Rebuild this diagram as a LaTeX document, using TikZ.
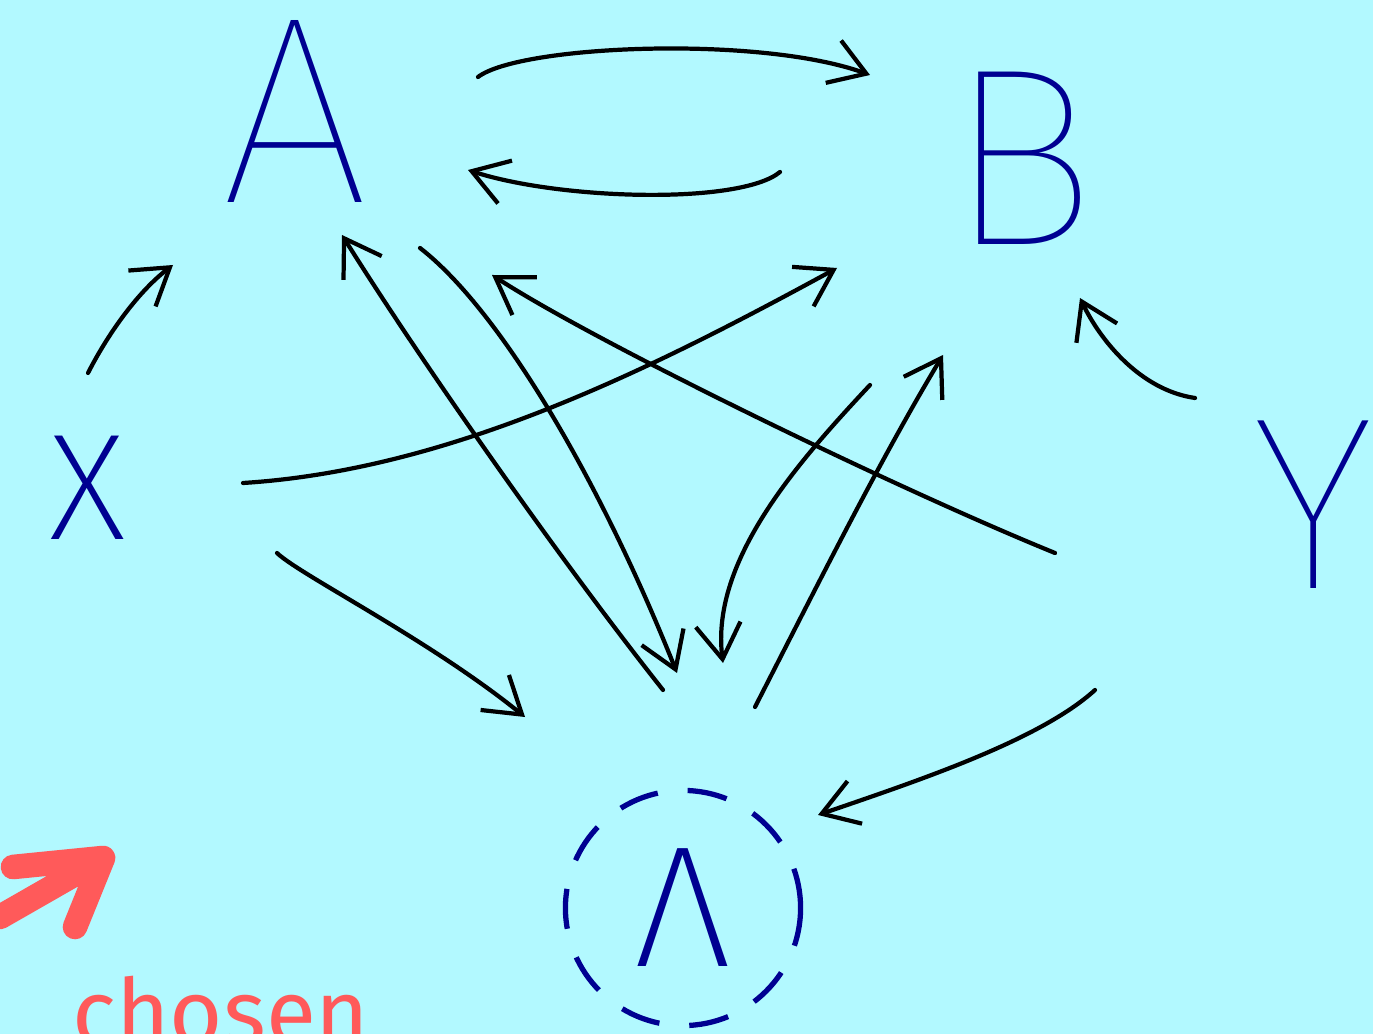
\documentclass[tikz,border=0pt]{standalone}
\usepackage{fontspec}
\newfontfamily\mao{Fira Sans ExtraLight}
\newfontfamily\maofina{Fira Sans Thin}
\newfontfamily\maonormal{Fira Sans}
\usetikzlibrary{arrows.meta}
\definecolor{fundo}{RGB}{178,249,255}
\definecolor{tinta}{RGB}{0,0,145}
\definecolor{verm}{RGB}{255,90,90}

\begin{document}
\begin{tikzpicture}[
      x=0.01cm, y=-0.01cm,
      letra/.style={text=tinta, inner sep=0pt},
      seta/.style={-{Straight Barb[length=3.5mm,width=4.5mm]}, line width=1.2pt,
                   line cap=round},
      marca/.style={verm, line width=7pt, line cap=round, line join=round}
    ]
    \clip (0,0) rectangle (1373,1034);
    \fill[fundo] (0,0) rectangle (1373,1034);
    \node[letra, font=\maofina\fontsize{76}{76}\selectfont] (A) at (295,112) {A};
    \node[letra, font=\maofina\fontsize{72}{72}\selectfont] (B) at (1022,158) {B};
    \node[letra, font=\mao\fontsize{43}{43}\selectfont] (X) at (88,488) {X};
    \node[letra, font=\maofina\fontsize{70}{70}\selectfont] (Y) at (1313,505) {Y};
    \node[letra, circle, draw=tinta, dash pattern=on 4mm off 3mm, line width=1.5pt,
          minimum size=2.35cm, font=\mao\fontsize{49}{49}\selectfont] (L) at (683,908) {Λ};
    % pontas das setas
    \coordinate (A1) at (478,77);   \coordinate (B1) at (870,75);
    \coordinate (B2) at (780,172);  \coordinate (A2) at (468,170);
    \coordinate (X1) at (88,373);   \coordinate (A3) at (173,265);
    \coordinate (Y1) at (1195,398); \coordinate (B3) at (1080,298);
    \coordinate (X2) at (243,483);  \coordinate (B4) at (837,268);
    \coordinate (L1) at (663,690);  \coordinate (A4) at (342,235);
    \coordinate (A5) at (420,248);  \coordinate (L2) at (677,673);
    \coordinate (Y2) at (1055,553); \coordinate (A6) at (492,275);
    \coordinate (L3) at (755,707);  \coordinate (B5) at (943,355);
    \coordinate (B6) at (870,385);  \coordinate (L4) at (723,663);
    \coordinate (X3) at (277,553);  \coordinate (L5) at (525,717);
    \coordinate (Y3) at (1095,690); \coordinate (L6) at (818,815);
    \draw[seta] (A1) .. controls (520,45) and (760,35) .. (B1);
    \draw[seta] (B2) .. controls (740,205) and (560,200) .. (A2);
    \draw[seta] (X1) .. controls (110,330) and (140,290) .. (A3);
    \draw[seta] (Y1) .. controls (1140,390) and (1100,340) .. (B3);
    \draw[seta] (X2) .. controls (450,470) and (650,370) .. (B4);
    \draw[seta] (L1) .. controls (560,560) and (420,360) .. (A4);
    \draw[seta] (A5) .. controls (500,310) and (600,480) .. (L2);
    \draw[seta] (Y2) .. controls (900,490) and (600,345) .. (A6);
    \draw[seta] (L3) .. controls (820,580) and (880,460) .. (B5);
    \draw[seta] (B6) .. controls (800,460) and (710,560) .. (L4);
    \draw[seta] (X3) .. controls (300,575) and (430,640) .. (L5);
    \draw[seta] (Y3) .. controls (1040,740) and (920,780) .. (L6);
    % marca vermelha
    \draw[marca] (0,917) -- (103,858) (13,867) -- (103,858) -- (75,927);
    \node[text=verm, anchor=base west, inner sep=0pt,
          font=\maonormal\fontsize{26}{26}\selectfont] (escolha) at (72,1044) {chosen};
  \end{tikzpicture}
\end{document}
